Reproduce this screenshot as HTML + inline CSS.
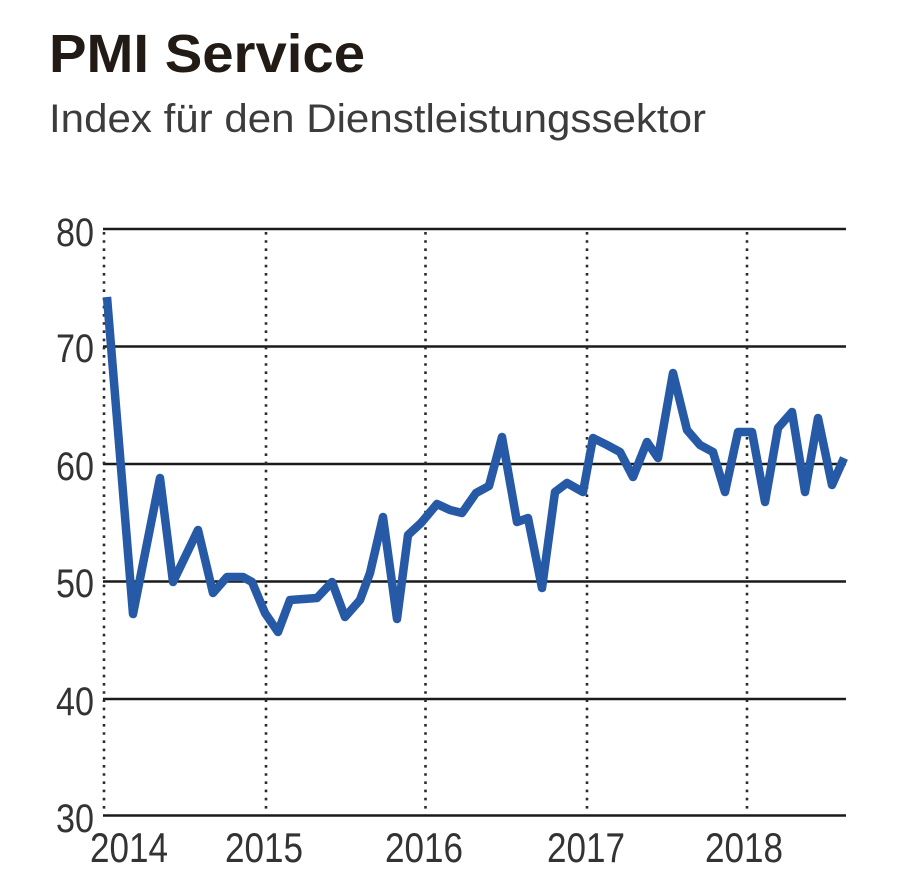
<!DOCTYPE html>
<html>
<head>
<meta charset="utf-8">
<style>
  html, body { margin:0; padding:0; background:#ffffff; }
  body { width:900px; height:888px; overflow:hidden; }
  svg { display:block; }
  text { font-family: "Liberation Sans", "DejaVu Sans", sans-serif; }
</style>
</head>
<body>
<svg width="900" height="888" viewBox="0 0 900 888" xmlns="http://www.w3.org/2000/svg">
  <rect x="0" y="0" width="900" height="888" fill="#ffffff"/>

  <!-- Title -->
  <text x="49" y="72" font-size="54" font-weight="bold" fill="#221a14" textLength="316" lengthAdjust="spacingAndGlyphs">PMI Service</text>
  <text x="49" y="132" font-size="40" fill="#3c3c3c" textLength="657" lengthAdjust="spacingAndGlyphs">Index für den Dienstleistungssektor</text>

  <!-- Horizontal gridlines -->
  <g stroke="#1a1a1a" stroke-width="2.4">
    <line x1="103" y1="229" x2="846" y2="229"/>
    <line x1="103" y1="346.5" x2="846" y2="346.5"/>
    <line x1="103" y1="464" x2="846" y2="464"/>
    <line x1="103" y1="581.5" x2="846" y2="581.5"/>
    <line x1="103" y1="699" x2="846" y2="699"/>
    <line x1="103" y1="815.5" x2="846" y2="815.5"/>
  </g>

  <!-- Dotted vertical lines -->
  <g stroke="#2a2a2a" stroke-width="2.6" stroke-dasharray="2.6 5.6">
    <line x1="104" y1="232" x2="104" y2="814"/>
    <line x1="266" y1="232" x2="266" y2="814"/>
    <line x1="425.5" y1="232" x2="425.5" y2="814"/>
    <line x1="587" y1="232" x2="587" y2="814"/>
    <line x1="747" y1="232" x2="747" y2="814"/>
  </g>

  <!-- Y labels -->
  <g font-size="40" fill="#333333" text-anchor="end">
    <text x="94" y="246" textLength="38" lengthAdjust="spacingAndGlyphs">80</text>
    <text x="94" y="362" textLength="38" lengthAdjust="spacingAndGlyphs">70</text>
    <text x="94" y="480" textLength="38" lengthAdjust="spacingAndGlyphs">60</text>
    <text x="94" y="597" textLength="38" lengthAdjust="spacingAndGlyphs">50</text>
    <text x="94" y="715" textLength="38" lengthAdjust="spacingAndGlyphs">40</text>
    <text x="94" y="832" textLength="38" lengthAdjust="spacingAndGlyphs">30</text>
  </g>

  <!-- X labels -->
  <g font-size="42" fill="#333333">
    <text x="90" y="862" textLength="78" lengthAdjust="spacingAndGlyphs">2014</text>
    <text x="225" y="862" textLength="78" lengthAdjust="spacingAndGlyphs">2015</text>
    <text x="385" y="862" textLength="78" lengthAdjust="spacingAndGlyphs">2016</text>
    <text x="547" y="862" textLength="78" lengthAdjust="spacingAndGlyphs">2017</text>
    <text x="705" y="862" textLength="78" lengthAdjust="spacingAndGlyphs">2018</text>
  </g>

  <!-- Series -->
  <polyline fill="none" stroke="#2659a6" stroke-width="8.5" stroke-linejoin="round" stroke-linecap="butt"
    points="107,297 133,614 160,478 173,582 198,530 213,593 227,577 243,577 252,582 265,613 278,632 290,600 317,598 332,582 345,617 360,600 370,573 383,517 397,619 408,535 421,523 437,504 450,510 462,513 476,493 489,486 502,437 517,522 528,518 542,588 555,492 567,483 583,492 593,438 607,445 620,452 633,477 647,442 658,458 673,373 687,430 700,445 713,452 725,492 738,432 752,432 765,502 778,428 792,412 805,492 818,418 832,485 844,458"/>
</svg>
</body>
</html>
